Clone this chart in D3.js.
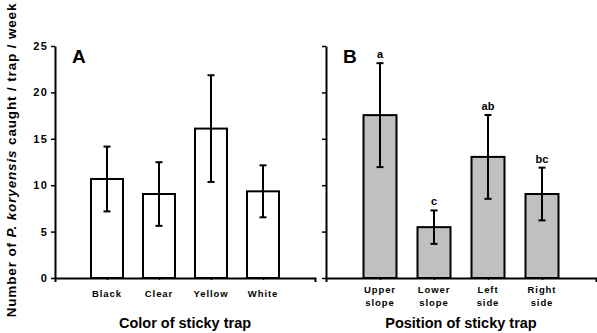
<!DOCTYPE html>
<html>
<head>
<meta charset="utf-8">
<script src="https://cdn.jsdelivr.net/npm/d3@7"></script>
<style>
  body { margin: 0; background: #fff; }
  svg { display: block; font-family: Arial, "Liberation Sans", sans-serif; }
</style>
</head>
<body>
<svg id="chart" width="597" height="333"></svg>
<script>
// Painel A: cor da armadilha
const colorCats = ["Black", "Clear", "Yellow", "White"];
const colorMeans = [10.67, 9.05, 16.1, 9.34];
const colorErr = [3.49, 3.43, 5.75, 2.8];

// Painel B: posição da armadilha
const posCats = [["Upper", "slope"], ["Lower", "slope"], ["Left", "side"], ["Right", "side"]];
const posMeans = [17.55, 5.48, 13.05, 9.05];
const posErr = [5.6, 1.8, 4.52, 2.84];
const posLetters = ["a", "c", "ab", "bc"];

const yTicks = [0, 5, 10, 15, 20, 25];

const svg = d3.select("#chart");

const y = d3.scaleLinear().domain([0, 25]).range([278, 46]);

function drawPanel(opts) {
  const x = d3.scalePoint()
    .domain(opts.cats.map((d, i) => i))
    .range(opts.range)
    .padding(1);

  const g = svg.append("g");

  // Eixo Y
  const yAxis = g.append("g")
    .attr("transform", `translate(${opts.range[0]},0)`)
    .call(d3.axisLeft(y).tickValues(yTicks).tickSize(4).tickSizeOuter(0)
      .tickFormat(opts.showY ? d3.format("d") : ""));
  yAxis.select(".domain").attr("stroke-width", 2);
  yAxis.selectAll(".tick line").attr("stroke-width", 1.5);
  yAxis.selectAll(".tick text")
    .attr("font-size", "11px")
    .attr("font-weight", "bold")
    .attr("letter-spacing", "1.2px")
    .attr("fill", "#000")
    .attr("x", -7);

  // Barras
  g.selectAll("rect.bar")
    .data(opts.means)
    .enter()
    .append("rect")
    .attr("class", "bar")
    .attr("x", (d, i) => x(i) - opts.barW / 2)
    .attr("y", (d) => y(d))
    .attr("width", opts.barW)
    .attr("height", (d) => y(0) - y(d))
    .attr("fill", opts.fill)
    .attr("stroke", "#000")
    .attr("stroke-width", 2);

  // Barras de erro
  const err = g.selectAll("g.err")
    .data(opts.means.map((m, i) => ({ m, e: opts.err[i], i })))
    .enter()
    .append("g")
    .attr("class", "err")
    .attr("stroke", "#000")
    .attr("stroke-width", 2);
  err.append("line")
    .attr("x1", (d) => x(d.i)).attr("x2", (d) => x(d.i))
    .attr("y1", (d) => y(d.m - d.e)).attr("y2", (d) => y(d.m + d.e));
  err.append("line")
    .attr("x1", (d) => x(d.i) - 3.5).attr("x2", (d) => x(d.i) + 3.5)
    .attr("y1", (d) => y(d.m + d.e)).attr("y2", (d) => y(d.m + d.e));
  err.append("line")
    .attr("x1", (d) => x(d.i) - 3.5).attr("x2", (d) => x(d.i) + 3.5)
    .attr("y1", (d) => y(d.m - d.e)).attr("y2", (d) => y(d.m - d.e));

  // Eixo X
  const xAxis = g.append("g")
    .attr("transform", `translate(0,${y(0)})`)
    .call(d3.axisBottom(x).tickSize(2).tickSizeOuter(4).tickFormat(""));
  xAxis.select(".domain").attr("stroke-width", 2);
  xAxis.selectAll(".tick line").attr("stroke-width", 1.5);

  // Rótulos das categorias
  const labels = g.selectAll("text.cat")
    .data(opts.cats)
    .enter()
    .append("text")
    .attr("class", "cat")
    .attr("text-anchor", "middle")
    .attr("font-size", "9.5px")
    .attr("font-weight", "bold")
    .attr("letter-spacing", "0.9px")
    .attr("y", opts.labelY);
  labels.each(function (d, i) {
    const lines = Array.isArray(d) ? d : [d];
    d3.select(this).selectAll("tspan")
      .data(lines)
      .enter()
      .append("tspan")
      .attr("x", x(i))
      .attr("dy", (l, j) => (j === 0 ? 0 : 12.5))
      .text((l) => l);
  });

  // Letras de significância
  if (opts.letters) {
    g.selectAll("text.sig")
      .data(opts.letters)
      .enter()
      .append("text")
      .attr("class", "sig")
      .attr("text-anchor", "middle")
      .attr("font-size", "11px")
      .attr("font-weight", "bold")
      .attr("x", (d, i) => x(i))
      .attr("y", (d, i) => y(opts.means[i] + opts.err[i]) - 5)
      .text((d) => d);
  }

  // Letra do painel
  g.append("text")
    .attr("x", opts.range[0] + 17)
    .attr("y", 63)
    .attr("font-size", "19px")
    .attr("font-weight", "bold")
    .text(opts.tag);

  // Título do eixo X
  g.append("text")
    .attr("x", (opts.range[0] + opts.range[1]) / 2)
    .attr("y", 328)
    .attr("text-anchor", "middle")
    .attr("font-size", "14.5px")
    .attr("font-weight", "bold")
    .text(opts.title);
}

drawPanel({
  cats: colorCats, means: colorMeans, err: colorErr,
  range: [55, 315], barW: 32, fill: "#fff",
  showY: true, labelY: 297, tag: "A", title: "Color of sticky trap"
});

drawPanel({
  cats: posCats, means: posMeans, err: posErr, letters: posLetters,
  range: [326, 596], barW: 33, fill: "#c0c0c0",
  showY: false, labelY: 293, tag: "B", title: "Position of sticky trap"
});

// Título do eixo Y
const yTitle = svg.append("text")
  .attr("transform", "translate(16,160) rotate(-90)")
  .attr("text-anchor", "middle")
  .attr("font-size", "13.5px")
  .attr("letter-spacing", "0.85px")
  .attr("font-weight", "bold");
yTitle.append("tspan").text("Number of ");
yTitle.append("tspan").attr("font-style", "italic").text("P. koryensis");
yTitle.append("tspan").text(" caught / trap / week");
</script>
</body>
</html>
